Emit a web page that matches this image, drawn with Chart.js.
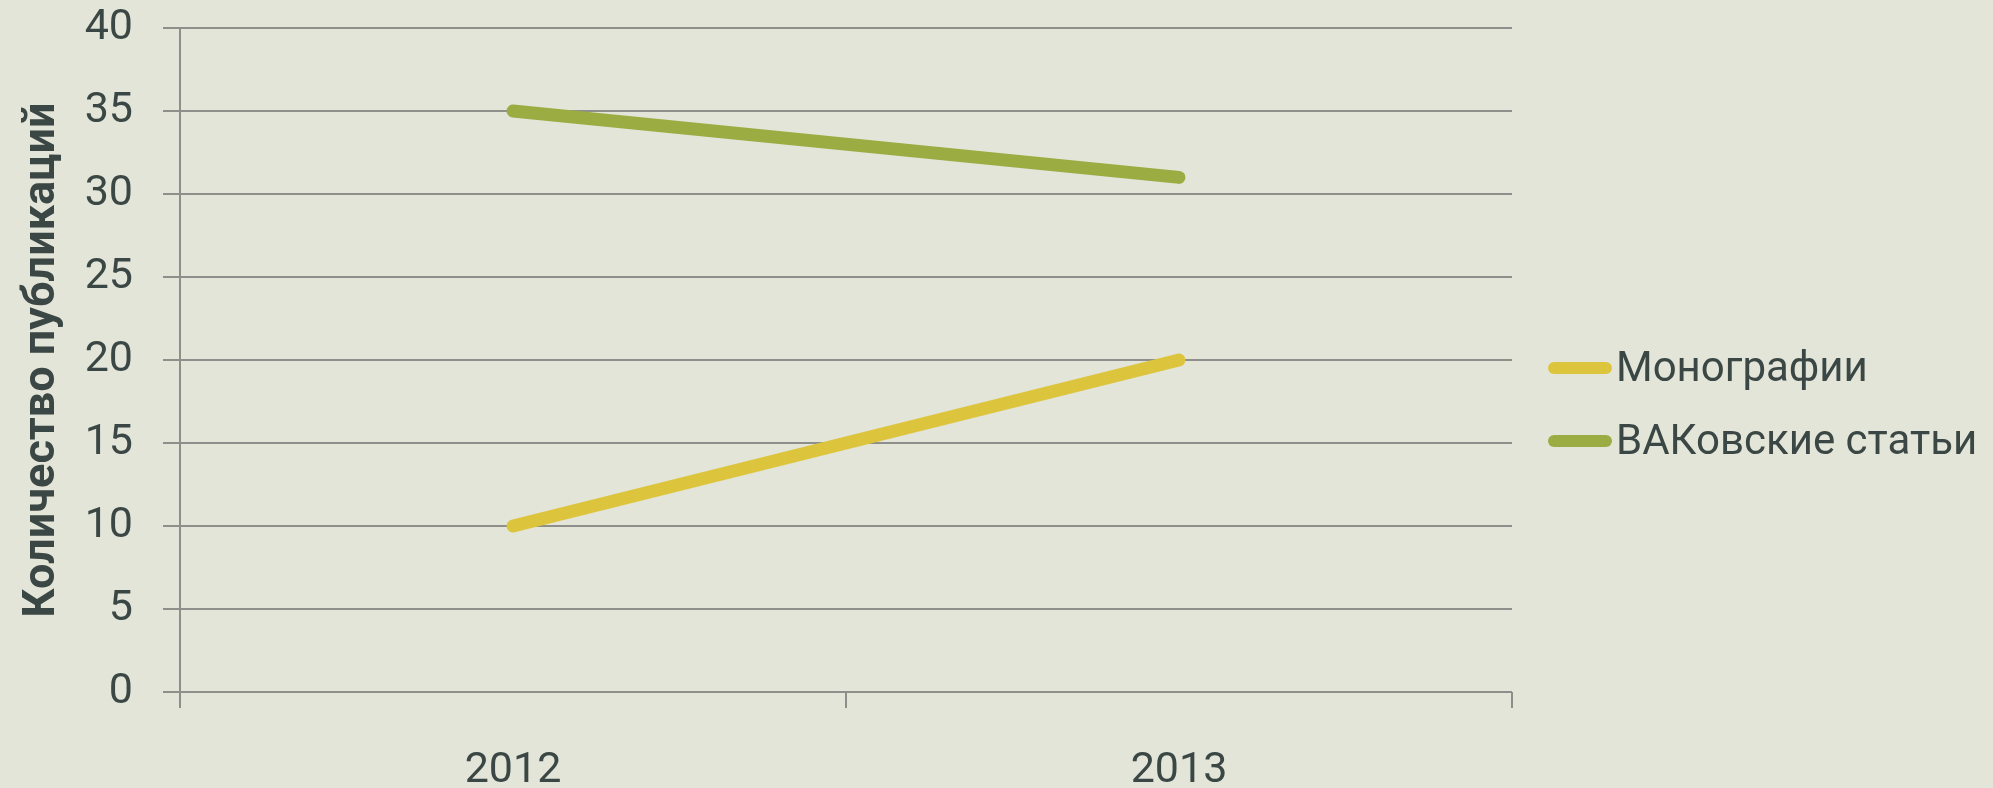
<!DOCTYPE html>
<html>
<head>
<meta charset="utf-8">
<script src="https://cdn.jsdelivr.net/npm/chart.js@4/dist/chart.umd.min.js"></script>
<style>
  html, body { margin: 0; padding: 0; background: #e3e5d9; }
  #wrap { width: 1993px; height: 788px; position: relative; }
</style>
</head>
<body>
<div id="wrap"><canvas id="c" width="1993" height="788"></canvas></div>
<script>
const categories = ['2012', '2013'];
const seriesNames = ['Монографии', 'ВАКовские статьи'];
const monographs = [10, 20];
const vakArticles = [35, 31];
const seriesColors = ['#dcc53c', '#9bad42'];
const yTitle = 'Количество публикаций';
const yMin = 0, yMax = 40, yStep = 5;

const textColor = '#3b4744';
const gridColor = '#8e8f8a';
const FONT = 'Roboto';

const legendPlugin = {
  id: 'customLegend',
  afterDraw(chart) {
    const ctx = chart.ctx;
    const area = chart.chartArea;
    const x0 = area.right + 36;
    const yStart = 368, gap = 73;
    ctx.save();
    chart.data.datasets.forEach((ds, i) => {
      const y = yStart + i * gap;
      ctx.strokeStyle = ds.borderColor;
      ctx.lineWidth = 12;
      ctx.lineCap = 'round';
      ctx.beginPath();
      ctx.moveTo(x0 + 6, y);
      ctx.lineTo(x0 + 58, y);
      ctx.stroke();
      ctx.fillStyle = textColor;
      ctx.font = '42px ' + FONT;
      ctx.textBaseline = 'middle';
      ctx.textAlign = 'left';
      ctx.fillText(ds.label, x0 + 68, y + 2);
    });
    ctx.restore();
  }
};

new Chart(document.getElementById('c'), {
  type: 'line',
  data: {
    labels: categories,
    datasets: [
      { label: seriesNames[0], data: monographs, borderColor: seriesColors[0], backgroundColor: seriesColors[0] },
      { label: seriesNames[1], data: vakArticles, borderColor: seriesColors[1], backgroundColor: seriesColors[1] }
    ]
  },
  options: {
    responsive: false,
    animation: false,
    devicePixelRatio: 1,
    layout: { padding: { left: 0, right: 481, top: 28, bottom: 0 } },
    elements: {
      line: { borderWidth: 13, borderCapStyle: 'round', borderJoinStyle: 'round', tension: 0 },
      point: { radius: 0, hoverRadius: 0 }
    },
    plugins: { legend: { display: false }, tooltip: { enabled: false } },
    scales: {
      x: {
        type: 'category',
        offset: true,
        afterFit(scale) { scale.height = 96; scale.paddingLeft = 0; scale.paddingRight = 0; },
        grid: {
          display: true, offset: true, drawOnChartArea: false, drawTicks: true,
          tickLength: 16, color: gridColor, lineWidth: 2
        },
        border: { display: false },
        ticks: { color: textColor, font: { family: FONT, size: 43 }, padding: 37, maxRotation: 0 }
      },
      y: {
        min: yMin, max: yMax,
        afterFit(scale) { scale.width = 180; scale.paddingTop = 0; scale.paddingBottom = 0; },
        grid: { color: gridColor, lineWidth: 2, drawTicks: true, tickLength: 17 },
        border: { display: true, color: gridColor, width: 2 },
        ticks: { stepSize: yStep, color: textColor, font: { family: FONT, size: 43 }, padding: 30 },
        title: {
          display: true, text: yTitle, color: textColor,
          font: { family: FONT, size: 45, weight: 'bold', lineHeight: 1.0 },
          padding: { top: 20, bottom: 0 }
        }
      }
    }
  },
  plugins: [legendPlugin]
});
</script>
</body>
</html>
